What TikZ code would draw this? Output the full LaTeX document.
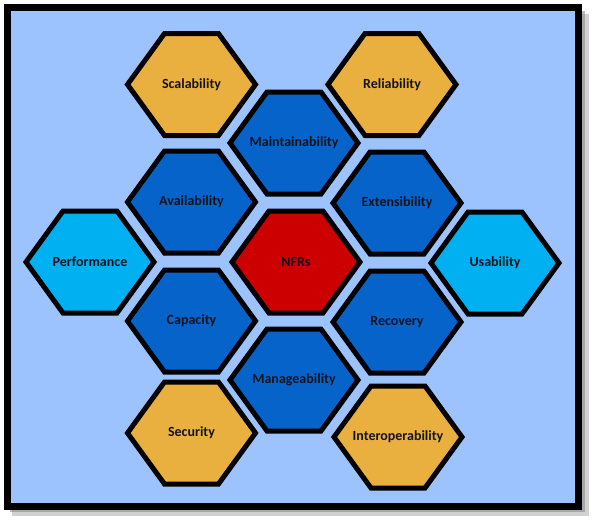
\documentclass[tikz,border=0pt]{standalone}
\usepackage{fontspec}
\setmainfont{Carlito}
\usetikzlibrary{shadows}
\definecolor{bgblue}{HTML}{9DC3FE}
\definecolor{hexgold}{HTML}{E9AF3F}
\definecolor{hexblue}{HTML}{0563C9}
\definecolor{hexcyan}{HTML}{00B0F0}
\definecolor{hexred}{HTML}{CC0000}
\definecolor{txtdark}{HTML}{141420}
\tikzset{
  hexborder/.style={draw=black, line width=5pt, line join=miter},
  hexlabel/.style={font=\bfseries\fontsize{14}{16}\selectfont, text=txtdark, inner sep=0pt},
  frame/.style={draw=black, line width=7pt, fill=bgblue}
}
\newcommand{\hexagonnode}[5]{%
  \filldraw[hexborder, fill=#4] (#2,#3) ++(-64,0) -- ++(37,-51) -- ++(54,0) -- ++(37,51) -- ++(-37,51) -- ++(-54,0) -- cycle;
  \node[hexlabel] (#1) at (#2,#3) {#5};
}
\begin{document}
\begin{tikzpicture}[x=1pt,y=-1pt]
\useasboundingbox (0,0) rectangle (595,523);
% shadow
\fill[black!30, opacity=0.6] (12,14) rectangle (589,516);
\fill[black!45, opacity=0.6] (10,11) rectangle (585,512);
\filldraw[frame] (7.5,7.5) rectangle (578.5,506);
\hexagonnode{scal}{191.5}{84.5}{hexgold}{Scalability}
\hexagonnode{reli}{392}{84.5}{hexgold}{Reliability}
\hexagonnode{main}{294}{143}{hexblue}{Maintainability}
\hexagonnode{avail}{191.5}{202}{hexblue}{Availability}
\hexagonnode{ext}{397}{203}{hexblue}{Extensibility}
\hexagonnode{perf}{90}{262}{hexcyan}{Performance}
\hexagonnode{nfr}{296}{262}{hexred}{NFRs}
\hexagonnode{usab}{495}{263}{hexcyan}{Usability}
\hexagonnode{cap}{191.5}{321}{hexblue}{Capacity}
\hexagonnode{rec}{397}{322}{hexblue}{Recovery}
\hexagonnode{manage}{294}{380}{hexblue}{Manageability}
\hexagonnode{sec}{191.5}{433}{hexgold}{Security}
\hexagonnode{inter}{398}{437}{hexgold}{Interoperability}
\end{tikzpicture}
\end{document}
